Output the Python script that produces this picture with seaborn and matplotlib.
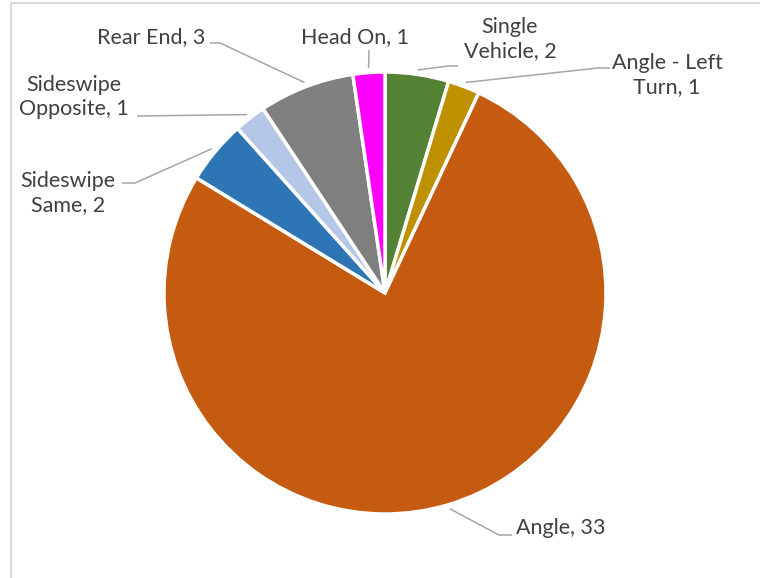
import matplotlib
matplotlib.use("Agg")
import matplotlib.pyplot as plt
import seaborn as sns
import numpy as np
from matplotlib.lines import Line2D

# ---- data ----
categories = ["Single Vehicle", "Angle - Left Turn", "Angle", "Sideswipe Same",
              "Sideswipe Opposite", "Rear End", "Head On"]
counts = [2, 1, 33, 2, 1, 3, 1]
label_texts = ["Single\nVehicle, 2", "Angle - Left\nTurn, 1", "Angle, 33",
               "Sideswipe\nSame, 2", "Sideswipe\nOpposite, 1", "Rear End, 3", "Head On, 1"]
colors = ["#548235", "#BF9000", "#C55A11", "#2E75B6", "#B4C7E7", "#7F7F7F", "#FF00FF"]

# ---- layout (pixel positions of labels / leader elbows) ----
W, H = 760, 578
CX, CY, R = 385, 293, 221
text_pos = [(510, 39, "center"), (667, 75, "center"), (516, 528, "left"),
            (68, 193, "center"), (74, 97, "center"), (205, 37, "right"), (355, 37, "center")]
elbows = [[(448, 66), (458, 66)],
          [(598, 68), (610, 68)],
          [(499, 535), (512, 535)],
          [(135, 183), (122, 183)],
          [(137, 116)],
          [(220, 43), (210, 43)],
          [(369, 50)]]

sns.set_theme(style="white")
plt.rcParams["font.family"] = ["Lato", "DejaVu Sans"]

fig = plt.figure(figsize=(W / 100, H / 100), dpi=100)
ax = fig.add_axes([(CX - R) / W, (H - CY - R) / H, 2 * R / W, 2 * R / H])

wedges, _ = ax.pie(counts, colors=colors, startangle=90, counterclock=False,
                   radius=1.0, wedgeprops=dict(edgecolor="white", linewidth=2.5))
ax.set_xlim(-1, 1)
ax.set_ylim(-1, 1)
ax.set_aspect("equal")
ax.axis("off")


def px2data(p):
    return ((p[0] - CX) / R, (CY - p[1]) / R)


for w, txt, (tx, ty, ha), elb in zip(wedges, label_texts, text_pos, elbows):
    mid = np.deg2rad((w.theta1 + w.theta2) / 2)
    anchor = (1.02 * np.cos(mid), 1.02 * np.sin(mid))
    pts = [anchor] + [px2data(p) for p in elb]
    xs, ys = zip(*pts)
    ax.plot(xs, ys, color="#A6A6A6", lw=1.1, clip_on=False, solid_capstyle="butt")
    dx, dy = px2data((tx, ty))
    ax.text(dx, dy, txt, ha=ha, va="center", fontsize=15.5, color="#404040",
            linespacing=1.22, clip_on=False)

# chart border (left and top visible)
fig.add_artist(Line2D([10.5 / W, 10.5 / W], [0, 1 - 3 / H], color="#D9D9D9", lw=1.5,
                      transform=fig.transFigure))
fig.add_artist(Line2D([10.5 / W, 1], [1 - 3 / H, 1 - 3 / H], color="#D9D9D9", lw=1.5,
                      transform=fig.transFigure))

fig.savefig("out.png", dpi=100, facecolor="white")
